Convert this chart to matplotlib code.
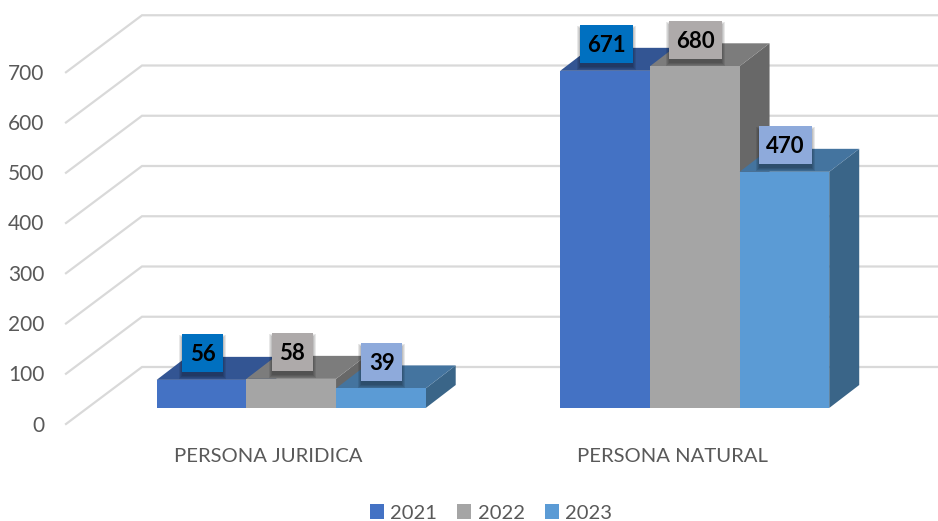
import matplotlib
matplotlib.use('Agg')
import matplotlib.pyplot as plt
from matplotlib.patches import Polygon, Rectangle, Patch

plt.rcParams['font.family'] = ['Lato', 'DejaVu Sans']

categories = ['PERSONA JURIDICA', 'PERSONA NATURAL']
years = ['2021', '2022', '2023']
values_2021 = [56, 671]
values_2022 = [58, 680]
values_2023 = [39, 470]
yticks = [0, 100, 200, 300, 400, 500, 600, 700]

front_colors = ['#4472c4', '#a5a5a5', '#5b9bd5']
top_colors = ['#335593', '#7c7c7c', '#44749f']
side_colors = ['#2f5086', '#686868', '#3a6588']
label_colors = ['#0070c0', '#aeaaaa', '#8eaadb']

# one bar is 1 x unit wide, 89.67 px; 100 y units are 50.25 px
W, H = 938, 521
xscale = 89.67
yscale = 0.5025
x0_px, y0_px = 291.2, 408


def dx(px):
    return px / xscale


def dy(px):
    return px / yscale


fig = plt.figure(figsize=(W / 100, H / 100), dpi=100)
ax = fig.add_axes([0, 0, 1, 1])
ax.set_xlim(-x0_px / xscale, (W - x0_px) / xscale)
ax.set_ylim(-(H - y0_px) / yscale, y0_px / yscale)
ax.axis('off')

# walls: slanted part on the left then flat back line
wall_left = dx(66 - x0_px)
wall_back = dx(142 - x0_px)
wall_right = dx(W - x0_px)
for t in yticks:
    yf = t - dy(16)
    yb = t + dy(41)
    ax.plot([wall_left, wall_back, wall_right], [yf, yb, yb], color='#d9d9d9', lw=1.6, zorder=1,
            solid_joinstyle='miter')
    ax.text(dx(44.5 - x0_px), yf - dy(1.5), str(t), ha='right', va='center', fontsize=15, color='#595959')


def bar3d(x, v, i):
    d_x, d_y = dx(30), dy(23)
    side = [(x + 1, 0), (x + 1 + d_x, d_y), (x + 1 + d_x, v + d_y), (x + 1, v)]
    top = [(x, v), (x + d_x, v + d_y), (x + 1 + d_x, v + d_y), (x + 1, v)]
    ax.add_patch(Polygon(side, facecolor=side_colors[i], edgecolor='none', zorder=3))
    ax.add_patch(Polygon(top, facecolor=top_colors[i], edgecolor='none', zorder=3))
    ax.add_patch(Rectangle((x, 0), 1, v, facecolor=front_colors[i], edgecolor='none', zorder=3))


def value_label(x, v, i):
    txt = str(v)
    w = dx(41 if len(txt) == 2 else 53)
    h = dy(38)
    cx = x + 0.5 + dx(1)
    cy = v + dy(26.5)
    # soft shadow, mostly under the box
    for k in range(4):
        grow = 3 - k
        ax.add_patch(Rectangle((cx - w / 2 - dx(grow), cy - h / 2 - dy(grow) - dy(4)),
                               w + dx(2 * grow), h + dy(2 * grow),
                               facecolor='black', alpha=0.09, edgecolor='none', zorder=4))
    ax.add_patch(Rectangle((cx - w / 2, cy - h / 2), w, h, facecolor=label_colors[i], edgecolor='none', zorder=5))
    ax.text(cx, cy - dy(1.5), txt, ha='center', va='center', fontsize=16, fontweight='bold', color='black', zorder=6)


series = [values_2021, values_2022, values_2023]
for c in range(len(categories)):
    start = c * 4.5 - 1.5
    for i in range(3):
        bar3d(start + i, series[i][c], i)
    for i in range(3):
        value_label(start + i, series[i][c], i)
    ax.text(start + 1.5 - dx(22.5), -dy(49), categories[c], ha='center', va='center', fontsize=14.6, color='#595959')

handles = [Patch(facecolor=front_colors[i], label=years[i]) for i in range(3)]
leg = ax.legend(handles=handles, ncols=3, frameon=False, loc='lower center', fontsize=14.5,
                bbox_to_anchor=(491 / W, -0.001), borderpad=0, borderaxespad=0,
                handlelength=0.7, handleheight=0.7, handletextpad=0.3, columnspacing=1.0,
                labelcolor='#595959')

fig.savefig('out.png', dpi=100)
